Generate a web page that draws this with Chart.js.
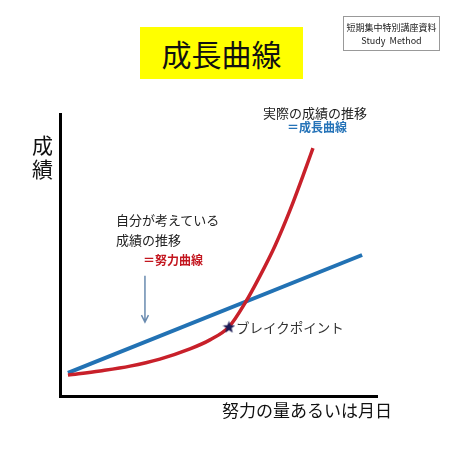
<!DOCTYPE html>
<html>
<head>
<meta charset="utf-8">
<script src="https://cdn.jsdelivr.net/npm/chart.js@4/dist/chart.umd.min.js"></script>
<style>
    body { margin: 0; background: #ffffff; }
    #wrap { position: relative; width: 450px; height: 450px; font-family: 'Noto Sans CJK JP', sans-serif; }
    #wrap canvas { position: absolute; left: 0; top: 0; }
    .lbl { position: absolute; white-space: nowrap; line-height: 1; }
    #title { left: 140px; top: 27px; width: 163px; height: 52px; background: #ffff00; font-size: 30px; text-align: center; line-height: 52px; color: #111; }
    #badge { left: 343px; top: 16px; width: 97px; height: 35px; border: 1px solid #999; font-size: 9px; text-align: center; color: #222; line-height: 13px; padding-top: 4px; box-sizing: border-box; }
    #ylabel { left: 32px; top: 132px; width: 22px; font-size: 21px; line-height: 24px; color: #111; white-space: normal; }
    #xlabel { left: 222px; top: 401px; font-size: 17px; color: #111; }
    .note { font-size: 13px; color: #222; }
    .blueNote { font-size: 12px; font-weight: bold; color: #2573b8; }
    .redNote { font-size: 12px; font-weight: bold; color: #c3161f; }
</style>
</head>
<body>
<div id="wrap">
    <canvas id="growthChart" width="450" height="450"></canvas>
    <div class="lbl" id="title">成長曲線</div>
    <div class="lbl" id="badge">短期集中特別講座資料<br>Study&nbsp;&nbsp;Method</div>
    <div class="lbl" id="ylabel">成<br>績</div>
    <div class="lbl" id="xlabel">努力の量あるいは月日</div>
    <div class="lbl note" style="left:263px; top:106px;">実際の成績の推移</div>
    <div class="lbl blueNote" style="left:287px; top:121px;">＝成長曲線</div>
    <div class="lbl note" style="left:116px; top:213px;">自分が考えている</div>
    <div class="lbl note" style="left:116px; top:233px;">成績の推移</div>
    <div class="lbl redNote" style="left:143px; top:254px;">＝努力曲線</div>
    <div class="lbl note" style="left:236px; top:321px; font-size:13.5px; color:#333;">ブレイクポイント</div>
</div>
<script>
// Chart data (x = effort / time, y = results), arbitrary 0-10 units
const effortLine = [
    { x: 0.25, y: 0.82 },
    { x: 9.53, y: 5.0 }
];

const growthCurve = [
    { x: 0.25, y: 0.74 },
    { x: 1.26, y: 0.89 },
    { x: 2.21, y: 1.06 },
    { x: 3.15, y: 1.31 },
    { x: 4.10, y: 1.67 },
    { x: 4.73, y: 1.99 },
    { x: 5.33, y: 2.45 },
    { x: 5.84, y: 3.30 },
    { x: 6.31, y: 4.26 },
    { x: 6.78, y: 5.32 },
    { x: 7.26, y: 6.60 },
    { x: 7.73, y: 8.01 },
    { x: 7.98, y: 8.79 }
];

const breakPoint = [{ x: 5.33, y: 2.45 }];

// arrow under the "effort curve" note: x, yFrom, yTo
const noteArrow = [2.68, 4.26, 2.62];

// filled star used as point style
function makeStar(size, color) {
    const c = document.createElement('canvas');
    c.width = size;
    c.height = size;
    const g = c.getContext('2d');
    const cx = size / 2, cy = size / 2 + 0.5;
    const outer = size / 2, inner = outer * 0.42;
    g.beginPath();
    for (let i = 0; i < 10; i++) {
        const r = i % 2 === 0 ? outer : inner;
        const a = -Math.PI / 2 + i * Math.PI / 5;
        g.lineTo(cx + r * Math.cos(a), cy + r * Math.sin(a));
    }
    g.closePath();
    g.fillStyle = color;
    g.fill();
    return c;
}

const arrowPlugin = {
    id: 'noteArrow',
    afterDatasetsDraw(chart) {
        const ctx = chart.ctx;
        const x = chart.scales.x.getPixelForValue(noteArrow[0]);
        const y1 = chart.scales.y.getPixelForValue(noteArrow[1]);
        const y2 = chart.scales.y.getPixelForValue(noteArrow[2]);
        ctx.save();
        ctx.strokeStyle = '#6a8bb0';
        ctx.lineWidth = 1.5;
        ctx.beginPath();
        ctx.moveTo(x, y1);
        ctx.lineTo(x, y2);
        ctx.moveTo(x - 3.5, y2 - 7);
        ctx.lineTo(x, y2);
        ctx.lineTo(x + 3.5, y2 - 7);
        ctx.stroke();
        ctx.restore();
    }
};

const ctx = document.getElementById('growthChart').getContext('2d');
const growthChart = new Chart(ctx, {
    type: 'scatter',
    data: {
        datasets: [{
            label: '成長曲線',
            data: growthCurve,
            showLine: true,
            borderColor: '#c8202a',
            borderWidth: 3.5,
            pointRadius: 0,
            cubicInterpolationMode: 'monotone',
            order: 2
        }, {
            label: '努力曲線',
            data: effortLine,
            showLine: true,
            borderColor: '#2272b4',
            borderWidth: 4,
            pointRadius: 0,
            order: 3
        }, {
            label: 'ブレイクポイント',
            data: breakPoint,
            pointStyle: makeStar(13, '#1b1b55'),
            pointRadius: 6,
            order: 1
        }]
    },
    options: {
        responsive: false,
        animation: false,
        layout: {
            padding: { left: 60, top: 114, right: 73, bottom: 54 }
        },
        scales: {
            x: {
                type: 'linear',
                min: 0,
                max: 10,
                ticks: { display: false },
                grid: { display: false, drawTicks: false },
                border: { display: true, color: '#000', width: 3 }
            },
            y: {
                type: 'linear',
                min: 0,
                max: 10,
                ticks: { display: false },
                grid: { display: false, drawTicks: false },
                border: { display: true, color: '#000', width: 3 }
            }
        },
        plugins: {
            legend: { display: false },
            tooltip: { enabled: false }
        }
    },
    plugins: [arrowPlugin]
});
</script>
</body>
</html>
